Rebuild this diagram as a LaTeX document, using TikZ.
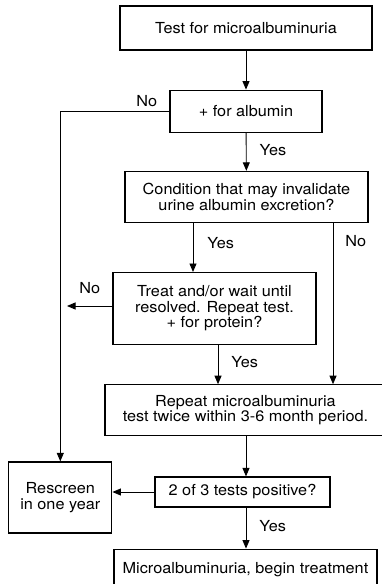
\documentclass[tikz,border=0pt]{standalone}
\usepackage{fontspec}
\setmainfont{TeX Gyre Heros}[FakeStretch=1.07]
\usetikzlibrary{arrows.meta,positioning}

\begin{document}
\begin{tikzpicture}[
  x=1pt, y=1pt,
  node distance=39pt and 42pt,
  every node/.style={font=\fontsize{15.2}{15.5}\selectfont},
  box/.style={draw, line width=1.2pt, align=center, inner sep=0pt},
  lbl/.style={inner sep=0pt},
  arr/.style={-{Triangle[length=8.5pt,width=7pt]}, line width=0.9pt},
  ln/.style={line width=0.9pt}
]
\useasboundingbox (0,0) rectangle (381,-584);

\node (test) [box, minimum width=252pt, minimum height=44pt] at (246,-28) {Test for microalbuminuria};
\node (alb)  [box, minimum width=152pt, minimum height=42pt, below=of test] {+ for albumin};
\node (cond) [box, minimum width=243pt, minimum height=51pt, below=38pt of alb, xshift=0.5pt]
  {Condition that may invalidate\\ urine albumin excretion?};
\node (treat)[box, minimum width=203pt, minimum height=72pt, below=49pt of cond, xshift=-32pt]
  {Treat and/or wait until\\ resolved. Repeat test.\\ + for protein?};
\node (rep)  [box, minimum width=281pt, minimum height=51pt, below=of treat, xshift=31pt]
  {Repeat microalbuminuria\\ test twice within 3-6 month period.};
\node (pos)  [box, minimum width=175pt, minimum height=30pt, below=40pt of rep, xshift=-3pt] {2 of 3 tests positive?};
\node (rescr)[box, minimum width=103pt, minimum height=71pt, left=of pos, yshift=-5.5pt] {Rescreen\\ in one year};
\node (final)[box, minimum width=263pt, minimum height=41pt, below=41pt of pos, xshift=3pt] {Microalbuminuria, begin treatment};

\coordinate (noend) at (67,-306);

\draw[arr] (test) -- (alb);
\draw[arr] (alb) -- node[lbl, right=13pt, yshift=2pt] {Yes} (cond);
\draw[arr] (alb.west) -| (rescr.north);
\node[lbl, above left=4pt and 12pt] at (alb.west) {No};
\draw[arr] ([xshift=-53.5pt]cond.south) -- ([xshift=-53.5pt]cond.south |- treat.north)
  node[lbl, midway, right=14pt, yshift=4pt] {Yes};
\draw[arr] ([xshift=86.5pt]cond.south) -- ([xshift=86.5pt]cond.south |- rep.north)
  node[lbl, pos=0.11, right=12pt] {No};
\draw[arr] (treat.west |- 0,-306) -- (noend) node[lbl, midway, above=12pt] {No};
\draw[arr] ([xshift=3.5pt]treat.south) -- ([xshift=3.5pt]treat.south |- rep.north)
  node[lbl, midway, right=13pt, yshift=3pt] {Yes};
\draw[arr] (246,0 |- rep.south) -- (246,0 |- pos.north);
\draw[arr] (pos.west) -- (pos.west -| rescr.east);
\draw[arr] (246,0 |- pos.south) -- node[lbl, right=13pt, yshift=2pt] {Yes} (246,0 |- final.north);
\end{tikzpicture}
\end{document}
